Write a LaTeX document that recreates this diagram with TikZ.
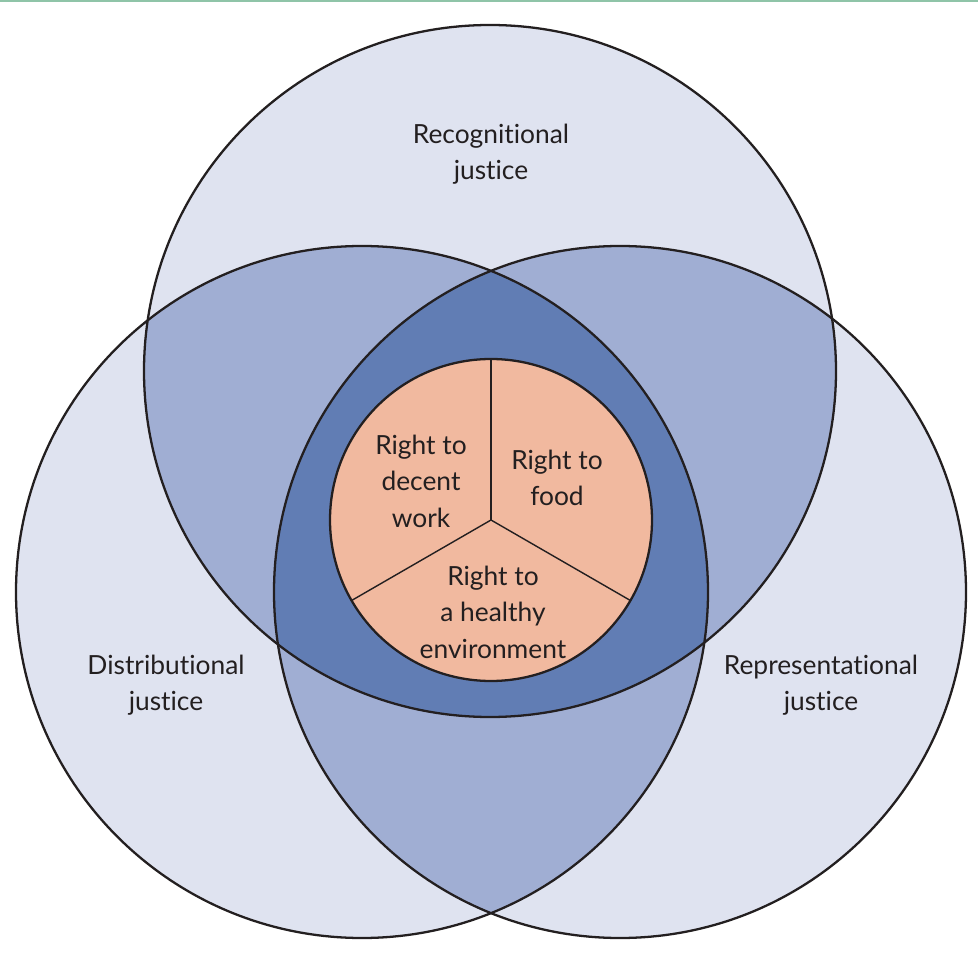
\documentclass[tikz,border=0pt]{standalone}
\usepackage{fontspec}
\setmainfont{Lato}[Ligatures=NoCommon]
\definecolor{lightc}{HTML}{DFE3F0}
\definecolor{midc}{HTML}{A0AED3}
\definecolor{darkc}{HTML}{617DB4}
\definecolor{orangec}{HTML}{F1B99F}
\definecolor{inkc}{HTML}{231F20}
\definecolor{greenline}{HTML}{8FC4A8}
\begin{document}
\begin{tikzpicture}[x=0.02cm,y=-0.02cm,
  outline/.style={draw=inkc,line width=1.3pt},
  spoke/.style={draw=inkc,line width=0.8pt},
  outer/.style={font=\fontsize{15}{20.5}\selectfont,text=inkc,align=center,inner sep=0pt},
  inner/.style={font=\fontsize{15}{20.8}\selectfont,text=inkc,align=center,inner sep=0pt}]
\useasboundingbox (0,0) rectangle (978,956);
\fill[white] (0,0) rectangle (978,956);
\fill[greenline] (0,0) rectangle (978,2);
% circle centres
\coordinate (T) at (490,371);
\coordinate (L) at (362,592);
\coordinate (R) at (620,592);
\def\rad{346}
% base fills
\fill[lightc] (T) circle[radius=\rad];
\fill[lightc] (L) circle[radius=\rad];
\fill[lightc] (R) circle[radius=\rad];
% pairwise overlaps
\begin{scope}
  \clip (T) circle[radius=\rad];
  \fill[midc] (L) circle[radius=\rad];
  \fill[midc] (R) circle[radius=\rad];
\end{scope}
\begin{scope}
  \clip (L) circle[radius=\rad];
  \fill[midc] (R) circle[radius=\rad];
\end{scope}
% triple overlap
\begin{scope}
  \clip (T) circle[radius=\rad];
  \clip (L) circle[radius=\rad];
  \fill[darkc] (R) circle[radius=\rad];
\end{scope}
% outlines
\draw[outline] (T) circle[radius=\rad];
\draw[outline] (L) circle[radius=\rad];
\draw[outline] (R) circle[radius=\rad];
% inner pie
\coordinate (C) at (491,520);
\fill[orangec] (C) circle[radius=161];
\draw[spoke] (C) -- ++(0,-161) coordinate (sa);
\draw[spoke] (C) -- ++(-139.4,80.5) coordinate (sb);
\draw[spoke] (C) -- ++(139.4,80.5) coordinate (sc);
\draw[outline] (C) circle[radius=161];
% labels
\node[outer] (rec) at (491,154) {Recognitional\\justice};
\node[outer] (dis) at (166,685) {Distributional\\justice};
\node[outer] (rep) at (821,685) {Representational\\justice};
\node[inner] (work) at (421,481) {Right to\\decent\\work};
\node[inner] (food) at (557,478) {Right to\\food};
\node[inner] (env) at (493,612) {Right to\\a healthy\\environment};
\end{tikzpicture}
\end{document}
